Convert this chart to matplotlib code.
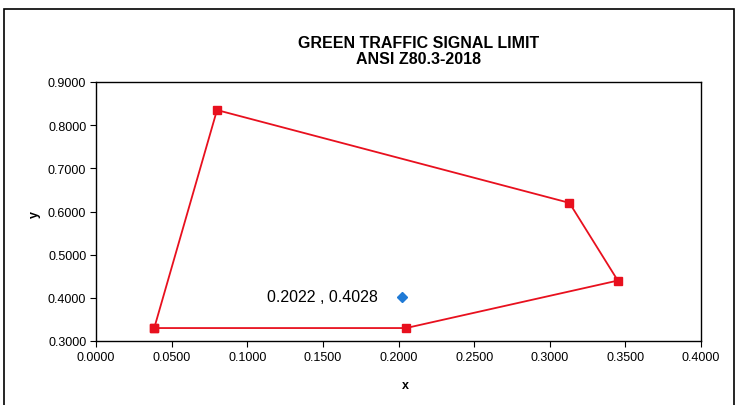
import matplotlib.pyplot as plt
from matplotlib.patches import Rectangle

plt.rcParams['font.family'] = ['Liberation Sans', 'DejaVu Sans']

# limit polygon corners (closed)
limit_x = [0.0385, 0.0800, 0.3130, 0.3450, 0.2050, 0.0385]
limit_y = [0.3300, 0.8350, 0.6200, 0.4400, 0.3300, 0.3300]

# measured point
pt_x = [0.2022]
pt_y = [0.4028]
pt_label = "0.2022 , 0.4028"

fig = plt.figure(figsize=(7.41, 4.06), dpi=100)
fig.patches.append(Rectangle((4 / 741, -0.05), 730 / 741, 1.05 - 10 / 406,
                             transform=fig.transFigure, fill=False,
                             edgecolor='black', linewidth=1.2))

ax = fig.add_axes([96 / 741, 64 / 406, 605 / 741, 259 / 406])
ax.plot(limit_x, limit_y, color='#e8101e', linewidth=1.3,
        marker='s', markersize=6, markerfacecolor='#e8101e', markeredgecolor='#e8101e')
ax.plot(pt_x, pt_y, linestyle='none', marker='D', markersize=5.5,
        color='#1f7ad6')
ax.annotate(pt_label, (pt_x[0], pt_y[0]), xytext=(-17, 0), textcoords='offset points',
            ha='right', va='center', fontsize=11.5)

ax.set_xlim(0, 0.4)
ax.set_ylim(0.3, 0.9)
ax.set_xticks([0.0, 0.05, 0.1, 0.15, 0.2, 0.25, 0.3, 0.35, 0.4])
ax.set_yticks([0.3, 0.4, 0.5, 0.6, 0.7, 0.8, 0.9])
ax.xaxis.set_major_formatter(plt.FormatStrFormatter('%.4f'))
ax.yaxis.set_major_formatter(plt.FormatStrFormatter('%.4f'))
ax.tick_params(labelsize=9, length=4, direction='out', pad=3)
for s in ax.spines.values():
    s.set_linewidth(1.0)

fig.text(35 / 741, 1 - 215 / 406, 'y', rotation=90, ha='center', va='center',
         fontsize=9, fontweight='bold')
fig.text(405 / 741, 1 - 386 / 406, 'x', ha='center', va='center',
         fontsize=9, fontweight='bold')
fig.text(419 / 741, 1 - 43 / 406, 'GREEN TRAFFIC SIGNAL LIMIT', ha='center', va='center',
         fontsize=11.5, fontweight='bold')
fig.text(419 / 741, 1 - 60 / 406, 'ANSI Z80.3-2018', ha='center', va='center',
         fontsize=11.5, fontweight='bold')

fig.savefig('out.png', dpi=100)
